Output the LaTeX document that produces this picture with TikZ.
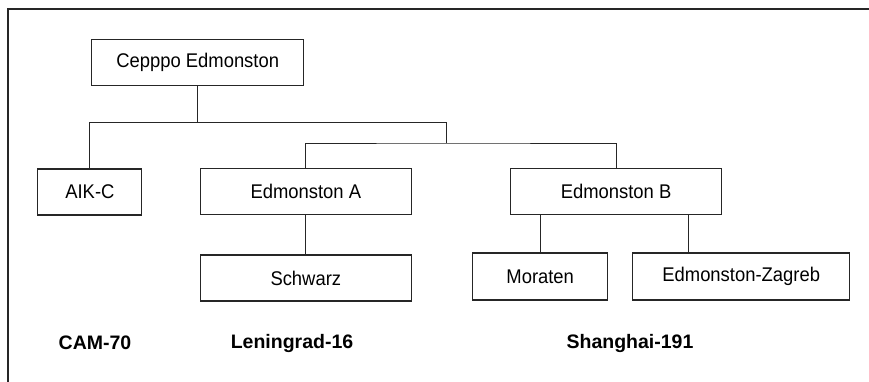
\documentclass[tikz,border=0pt]{standalone}
\usepackage{fontspec}
\setmainfont{Liberation Sans}
\newfontfamily\narrowfont{Liberation Sans}[FakeStretch=0.93]
\begin{document}
\begin{tikzpicture}[x=1pt,y=-1pt,
  box/.style={draw=black!85,line width=1.1pt,minimum height=46pt,inner sep=0pt,font=\narrowfont\fontsize{19.8}{22}\selectfont},
  lbl/.style={font=\fontsize{19.5}{22}\selectfont\bfseries},
  conn/.style={draw=black!85,line width=0.9pt}]
\useasboundingbox (0,0) rectangle (869,382);
\draw[black!85,line width=1.3pt] (8,382) -- (8,9) -- (869,9);
\node[box,minimum width=212pt] (root) at (197.7,62.5) {Cepppo Edmonston};
\node[box,minimum width=104pt] (aik) at (89.9,192) {AIK-C};
\node[box,minimum width=211pt] (edA) at (305.8,191.7) {Edmonston A};
\node[box,minimum width=211pt] (edB) at (616.1,191.7) {Edmonston B};
\node[box,minimum width=211.5pt] (sch) at (305.8,278) {Schwarz};
\node[box,minimum width=134.7pt,minimum height=47pt] (mor) at (540.2,276.5) {Moraten};
\node[box,minimum width=217.3pt,minimum height=47pt] (zag) at (741.2,276.5) {Edmonston-Zagreb};
\node[lbl] (cam) at (95,343) {CAM-70};
\node[lbl] (len) at (292,343) {Leningrad-16};
\node[lbl] (sha) at (630,343) {Shanghai-191};
\coordinate (j1) at (446,122);
\coordinate (j2) at (446,143);
\coordinate (zc) at (688.5,253);
\draw[conn] (root.south) -- (root.south |- j1);
\draw[conn] (aik.north) |- (j1) -- (j2);
\draw[conn] (edA.north) |- (j2) -| (edB.north);
\draw[conn] (edA.south) -- (sch.north);
\draw[conn] (mor.north) -- (mor.north |- edB.south);
\draw[conn] (zc) -- (zc |- edB.south);
\end{tikzpicture}
\end{document}
